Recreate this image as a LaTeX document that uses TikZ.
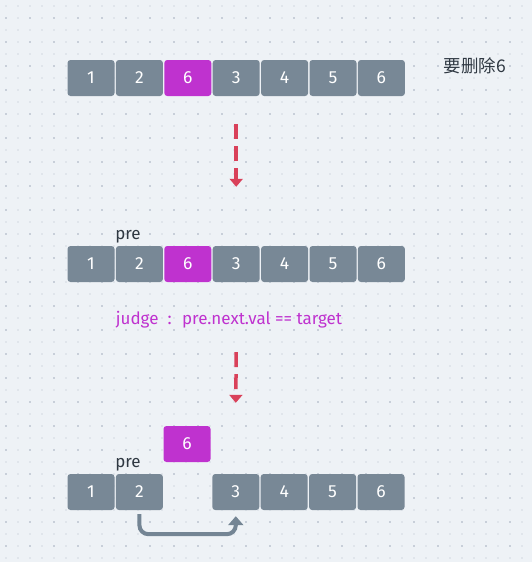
\documentclass[tikz,border=0pt]{standalone}
\usepackage{fontspec}
\setmainfont{Fira Sans}
\newfontfamily\cjkfont{Noto Sans CJK SC}
\definecolor{paper}{HTML}{EEF2F6}
\definecolor{dotlight}{HTML}{E0E5EB}
\definecolor{dotdark}{HTML}{C8CFD9}
\definecolor{cellgray}{HTML}{788896}
\definecolor{hotpurple}{HTML}{BF32CF}
\definecolor{inkdark}{HTML}{2F3842}
\definecolor{flowred}{HTML}{D9415A}
\definecolor{linkgray}{HTML}{748594}
\usetikzlibrary{arrows.meta, positioning, calc}

\begin{document}
\begin{tikzpicture}[
    x=1pt, y=-1pt,
    node distance=1pt,
    cell/.style={
        rectangle,
        rounded corners=3pt,
        fill=cellgray,
        text=white,
        minimum width=47pt,
        minimum height=36pt,
        inner sep=0pt,
        font=\fontsize{17.5}{20}\selectfont,
    },
    hot/.style={cell, fill=hotpurple},
    ptr/.style={text=inkdark, inner sep=0pt, font=\fontsize{17}{20}\selectfont},
    note/.style={text=hotpurple, inner sep=0pt, font=\fontsize{17}{20}\selectfont},
    flow/.style={-{Triangle[length=8pt,width=13pt]}, line width=3.5pt, draw=flowred,
        dash pattern=on 15pt off 7pt},
    link/.style={-{Triangle[length=9pt,width=15pt]}, line width=4pt, draw=linkgray,
        rounded corners=9pt},
]

% paper and dot grid
\fill[paper] (0,0) rectangle (532,562);
\useasboundingbox (0,0) rectangle (532,562);
\foreach \i in {0,...,43}
    \foreach \j in {0,...,46}
        \fill[dotlight] (5+12*\i,5+12*\j) rectangle ++(2,2);
\foreach \i in {0,...,21}
    \foreach \j in {0,...,22}
        \fill[dotdark] (5+24*\i,17+24*\j) rectangle ++(2,2);

% first row
\node[cell] (r1a) at (91,78) {1};
\node[cell, right=of r1a] (r1b) {2};
\node[hot,  right=of r1b] (r1c) {6};
\node[cell, right=of r1c] (r1d) {3};
\node[cell, right=of r1d] (r1e) {4};
\node[cell, right=of r1e] (r1f) {5};
\node[cell, right=of r1f] (r1g) {6};
\node[ptr, font=\cjkfont\fontsize{17.5}{20}\selectfont] (goal) at (475,66) {要删除6};

% second row
\node[cell] (r2a) at (91,264) {1};
\node[cell, right=of r2a] (r2b) {2};
\node[hot,  right=of r2b] (r2c) {6};
\node[cell, right=of r2c] (r2d) {3};
\node[cell, right=of r2d] (r2e) {4};
\node[cell, right=of r2e] (r2f) {5};
\node[cell, right=of r2f] (r2g) {6};
\node[ptr] (pre2) at (128,237) {pre};
\node[note] (judge) at (229,320) {judge \ : \ pre.next.val == target};

% third row
\node[cell] (r3a) at (91,492) {1};
\node[cell, right=of r3a] (r3b) {2};
\node[hot] (r3c) at (187,444) {6};
\node[cell, right=49pt of r3b] (r3d) {3};
\node[cell, right=of r3d] (r3e) {4};
\node[cell, right=of r3e] (r3f) {5};
\node[cell, right=of r3f] (r3g) {6};
\node[ptr] (pre3) at (128,465) {pre};

\coordinate (f1s) at ($(r1d.south)+(0,28)$);
\coordinate (f1e) at ($(r2d.north)-(0,59)$);
\coordinate (f2s) at ($(r2d.south)+(0,70)$);
\coordinate (f2e) at ($(r3d.north)-(0,71)$);
\draw[flow] (f1s) -- (f1e);
\draw[flow] (f2s) -- (f2e);

\draw[link, shorten <=4pt, shorten >=6pt] (r3b.south) -- ++(0,24) -| (r3d.south);

\end{tikzpicture}
\end{document}
